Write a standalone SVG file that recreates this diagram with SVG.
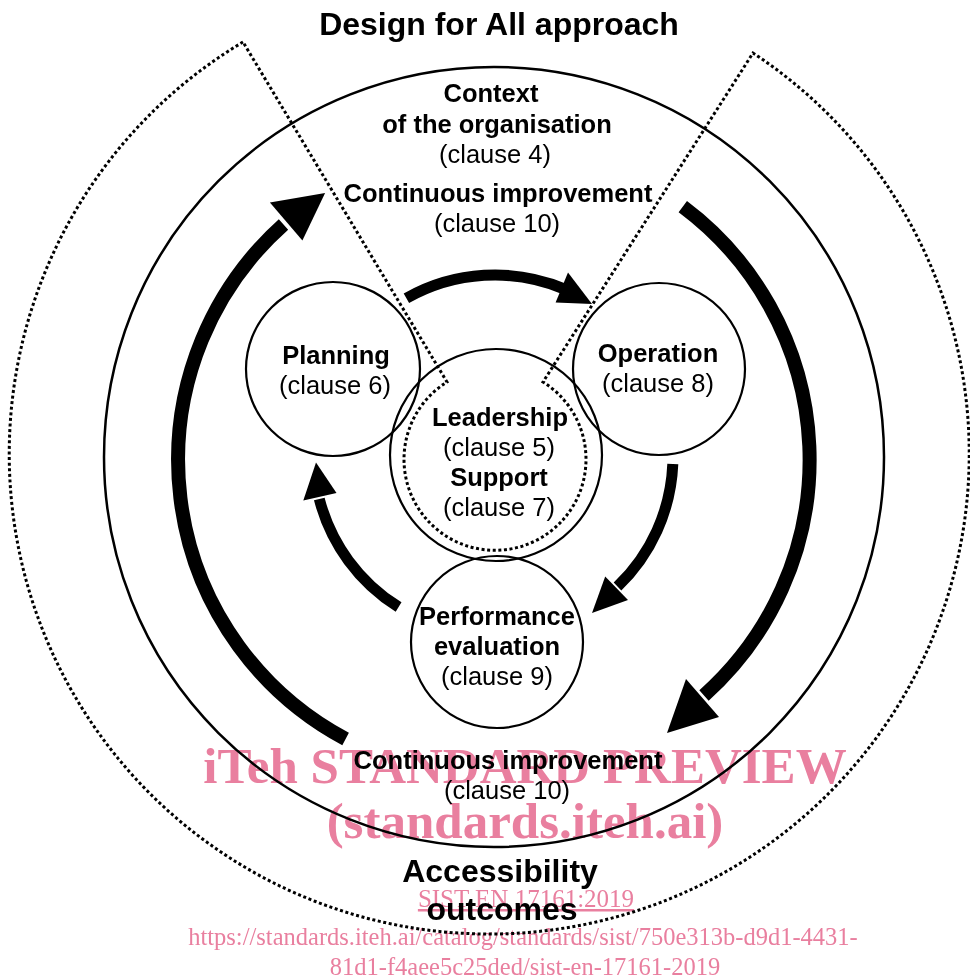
<svg xmlns="http://www.w3.org/2000/svg" width="970" height="979" viewBox="0 0 970 979">
  <style>
    .ring { fill: none; stroke: #000; stroke-width: 2.5; }
    .node { fill: none; stroke: #000; stroke-width: 2.2; }
    .dots { fill: none; stroke: #000; stroke-width: 3; stroke-dasharray: 3 2.6; }
    .big { fill: none; stroke: #000; stroke-width: 14; }
    .small { fill: none; stroke: #000; stroke-width: 11; }
    .head { fill: #000; stroke: none; }
    text { font-family: "Liberation Sans", Arial, sans-serif; fill: #000; text-anchor: middle; }
    .b { font-weight: bold; font-size: 25.5px; }
    .r { font-size: 25.5px; }
    .title { font-weight: bold; font-size: 32px; }
    .wm { font-family: "Liberation Serif", "Times New Roman", serif; fill: #e97f9f; mix-blend-mode: multiply; }
  </style>

  <!-- title -->
  <text class="title" x="499" y="35">Design for All approach</text>

  <!-- dotted "Design for All" outline: outer arc, two radial edges, inner arc -->
  <path id="design-for-all" class="dots" d="M 243 42 A 480 480 0 1 0 753 53 L 543 382 A 91 91 0 1 1 447 382 Z"/>

  <!-- context of the organisation -->
  <g id="context">
    <circle class="ring" cx="494" cy="457" r="390"/>
    <text class="b" x="491" y="102">Context</text>
    <text class="b" x="497" y="133">of the organisation</text>
    <text class="r" x="495" y="163">(clause 4)</text>
    <text class="b" x="498" y="202">Continuous improvement</text>
    <text class="r" x="497" y="232">(clause 10)</text>
    <text class="b" x="508" y="769">Continuous improvement</text>
    <text class="r" x="507" y="799">(clause 10)</text>
  </g>

  <g id="planning">
    <circle class="node" cx="333" cy="369" r="87"/>
    <text class="b" x="336" y="364">Planning</text>
    <text class="r" x="335" y="394">(clause 6)</text>
  </g>

  <g id="operation">
    <circle class="node" cx="659" cy="369" r="86"/>
    <text class="b" x="658" y="362">Operation</text>
    <text class="r" x="658" y="392">(clause 8)</text>
  </g>

  <g id="leadership-support">
    <circle class="node" cx="496" cy="455" r="106"/>
    <text class="b" x="500" y="426">Leadership</text>
    <text class="r" x="499" y="456">(clause 5)</text>
    <text class="b" x="499" y="486">Support</text>
    <text class="r" x="499" y="516">(clause 7)</text>
  </g>

  <g id="performance-evaluation">
    <circle class="node" cx="497" cy="642" r="86"/>
    <text class="b" x="497" y="625">Performance</text>
    <text class="b" x="497" y="655">evaluation</text>
    <text class="r" x="497" y="685">(clause 9)</text>
  </g>

  <g id="outcomes">
    <text class="title" x="500" y="882">Accessibility</text>
    <text class="title" x="502" y="920">outcomes</text>
  </g>

  <!-- connectors -->
  <g id="connectors">
    <!-- outer improvement cycle -->
    <path class="big" d="M 345.6 739 A 316 316 0 0 1 283.5 224.5"/>
    <polygon class="head" points="325.1,192.9 269.9,202.4 302.4,240.6"/>
    <path class="big" d="M 682.8 206.6 A 316 316 0 0 1 704 695.5"/>
    <polygon class="head" points="667,733 719,717 686,679"/>
    <!-- inner PDCA cycle -->
    <path class="small" d="M 406.4 298.3 A 180 180 0 0 1 564 288.8"/>
    <polygon class="head" points="592,304 568,272.5 555.6,302.6"/>
    <path class="small" d="M 672.8 464.1 A 180 180 0 0 1 617.5 586.5"/>
    <polygon class="head" points="592,613 628,600 605.2,576.5"/>
    <path class="small" d="M 398.6 607 A 180 180 0 0 1 319.3 499"/>
    <polygon class="head" points="316,462.5 303.3,500.4 336.5,493"/>
  </g>

  <!-- publisher overlay -->
  <g id="preview-stamp">
    <text class="wm" x="525" y="783" font-size="51" font-weight="bold">iTeh STANDARD PREVIEW</text>
    <text class="wm" x="525" y="838" font-size="51" font-weight="bold">(standards.iteh.ai)</text>
    <text class="wm" x="526" y="907" font-size="25" text-decoration="underline">SIST EN 17161:2019</text>
    <text class="wm" x="523" y="945" font-size="24.5">https://standards.iteh.ai/catalog/standards/sist/750e313b-d9d1-4431-</text>
    <text class="wm" x="525" y="975" font-size="24.5">81d1-f4aee5c25ded/sist-en-17161-2019</text>
  </g>
</svg>
